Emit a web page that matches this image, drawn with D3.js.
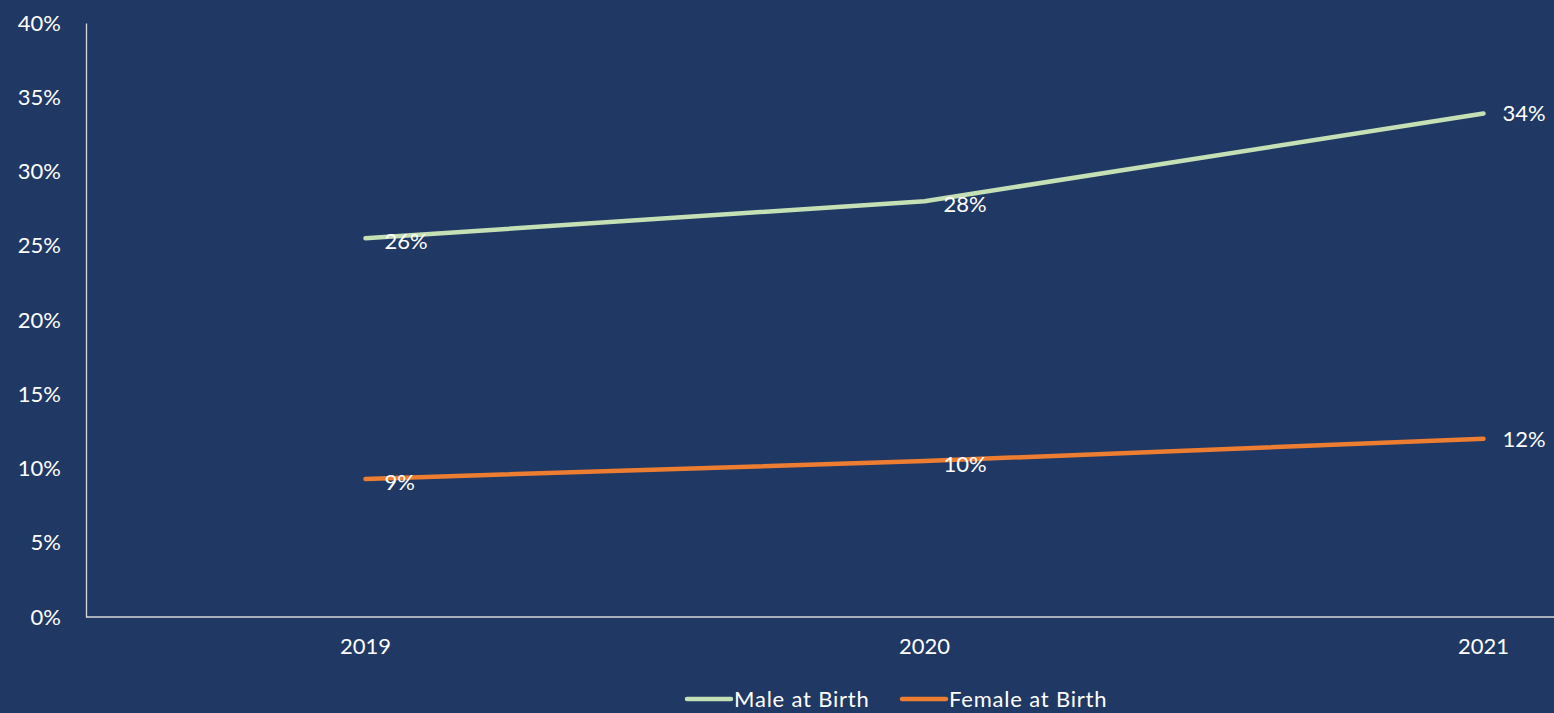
<!DOCTYPE html>
<html>
<head>
<meta charset="utf-8">
<script src="https://cdn.jsdelivr.net/npm/d3@7"></script>
<style>
  body { margin: 0; background: #203864; }
  svg { display: block; }
  text { font-family: Lato, "Open Sans", sans-serif; fill: #ffffff; }
</style>
</head>
<body>
<svg id="chart" width="1554" height="713"></svg>
<script>
const years = ["2019", "2020", "2021"];
const maleValues = [25.5, 28.0, 33.9];
const femaleValues = [9.3, 10.5, 12.0];
const maleLabels = ["26%", "28%", "34%"];
const femaleLabels = ["9%", "10%", "12%"];
const yTicks = [0, 5, 10, 15, 20, 25, 30, 35, 40];

const width = 1554, height = 713;
const fontSize = 22;
const svg = d3.select("#chart");

svg.append("rect").attr("width", width).attr("height", height).attr("fill", "#203864");

const x = d3.scaleBand().domain(years).range([86, 1763]);
const y = d3.scaleLinear().domain([0, 40]).range([617, 23]);

// y axis
const yAxis = svg.append("g").attr("transform", "translate(86,0)")
    .call(d3.axisLeft(y).tickValues(yTicks).tickSize(0).tickPadding(25).tickFormat(d => d + "%"));
yAxis.select(".domain").attr("stroke", "#d9d9d9").attr("stroke-width", 1.3);
yAxis.selectAll("text").attr("font-size", fontSize).attr("fill", "#fff").style("font-family", "Lato, sans-serif");

// x axis
const xAxis = svg.append("g").attr("transform", "translate(0,617)")
    .call(d3.axisBottom(x).tickSize(0).tickPadding(21));
xAxis.select(".domain").remove();
xAxis.append("line").attr("x1", 86).attr("x2", width).attr("stroke", "#d9d9d9").attr("stroke-width", 1.3);
xAxis.selectAll("text").attr("font-size", fontSize).attr("fill", "#fff").style("font-family", "Lato, sans-serif");

const cx = d => x(d) + x.bandwidth() / 2;

const series = [
    { name: "Male at Birth", values: maleValues, labels: maleLabels, color: "#c5e0b4" },
    { name: "Female at Birth", values: femaleValues, labels: femaleLabels, color: "#ed7d31" }
];

const line = d3.line().x(d => cx(d.year)).y(d => y(d.value));

series.forEach(s => {
    const pts = years.map((yr, i) => ({ year: yr, value: s.values[i], label: s.labels[i] }));
    svg.append("path")
        .datum(pts)
        .attr("d", line)
        .attr("fill", "none")
        .attr("stroke", s.color)
        .attr("stroke-width", 4.5)
        .attr("stroke-linecap", "round")
        .attr("stroke-linejoin", "round");

    svg.selectAll(null)
        .data(pts)
        .enter().append("text")
        .attr("x", d => cx(d.year) + 19)
        .attr("y", (d, i) => y(d.value) + (i === 2 ? 0 : 3))
        .attr("dy", "0.35em")
        .attr("font-size", fontSize)
        .text(d => d.label);
});

// legend
const legend = svg.append("g");
const legendItems = [
    { x: 687, s: series[0] },
    { x: 902, s: series[1] }
];
legendItems.forEach(it => {
    legend.append("line")
        .attr("x1", it.x).attr("x2", it.x + 44)
        .attr("y1", 699).attr("y2", 699)
        .attr("stroke", it.s.color).attr("stroke-width", 4.5)
        .attr("stroke-linecap", "round");
    legend.append("text")
        .attr("x", it.x + 47).attr("y", 699)
        .attr("dy", "0.35em")
        .attr("font-size", fontSize)
        .attr("letter-spacing", 0.8)
        .text(it.s.name);
});
</script>
</body>
</html>
